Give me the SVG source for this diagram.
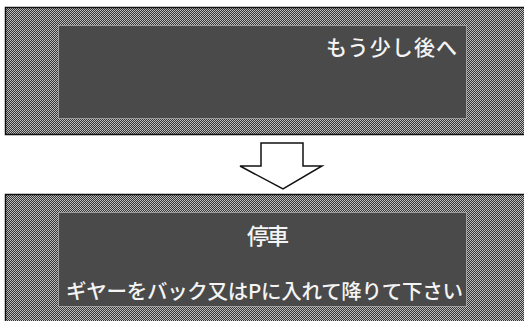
<svg xmlns="http://www.w3.org/2000/svg" width="524" height="321" viewBox="0 0 524 321">
  <defs>
    <pattern id="dither" width="2" height="2" patternUnits="userSpaceOnUse">
      <rect width="2" height="2" fill="#363636"/>
      <rect width="1" height="1" fill="#c2c2c2"/>
      <rect x="1" y="1" width="1" height="1" fill="#b4b4b4"/>
    </pattern>
  </defs>
  <style>
    .outer { fill: url(#dither); stroke: #111; stroke-width: 1.5; }
    .inner { fill: #4a4a4a; stroke: #d8d8d8; stroke-width: 1; stroke-dasharray: 1 1; }
    .label { fill: #f4f4f4; font-family: "Noto Sans CJK JP", "Noto Sans CJK SC", sans-serif; font-weight: 500; }
    .arrow { fill: #ffffff; stroke: #111; stroke-width: 1.5; stroke-linejoin: miter; }
  </style>
  <rect width="524" height="321" fill="#ffffff"/>

  <g id="node-top">
    <rect class="outer" x="5.5" y="7.5" width="530" height="127"/>
    <rect class="inner" x="58.5" y="25.5" width="408" height="93"/>
    <text class="label" x="326" y="54.5" font-size="21" textLength="131" lengthAdjust="spacing">もう少し後へ</text>
  </g>

  <g id="node-bottom">
    <rect class="outer" x="5.5" y="194.5" width="530" height="140"/>
    <rect class="inner" x="58.5" y="212.5" width="408" height="94"/>
    <text class="label" x="247" y="244" font-size="22" textLength="42" lengthAdjust="spacing">停車</text>
    <text class="label" x="66" y="298.5" font-size="20.5" textLength="397" lengthAdjust="spacing">ギヤーをバック又はPに入れて降りて下さい</text>
  </g>

  <g id="connectors">
    <polygon class="arrow" points="261,143 303,143 303,166 322,166 283,189 240,166 261,166"/>
  </g>
</svg>
